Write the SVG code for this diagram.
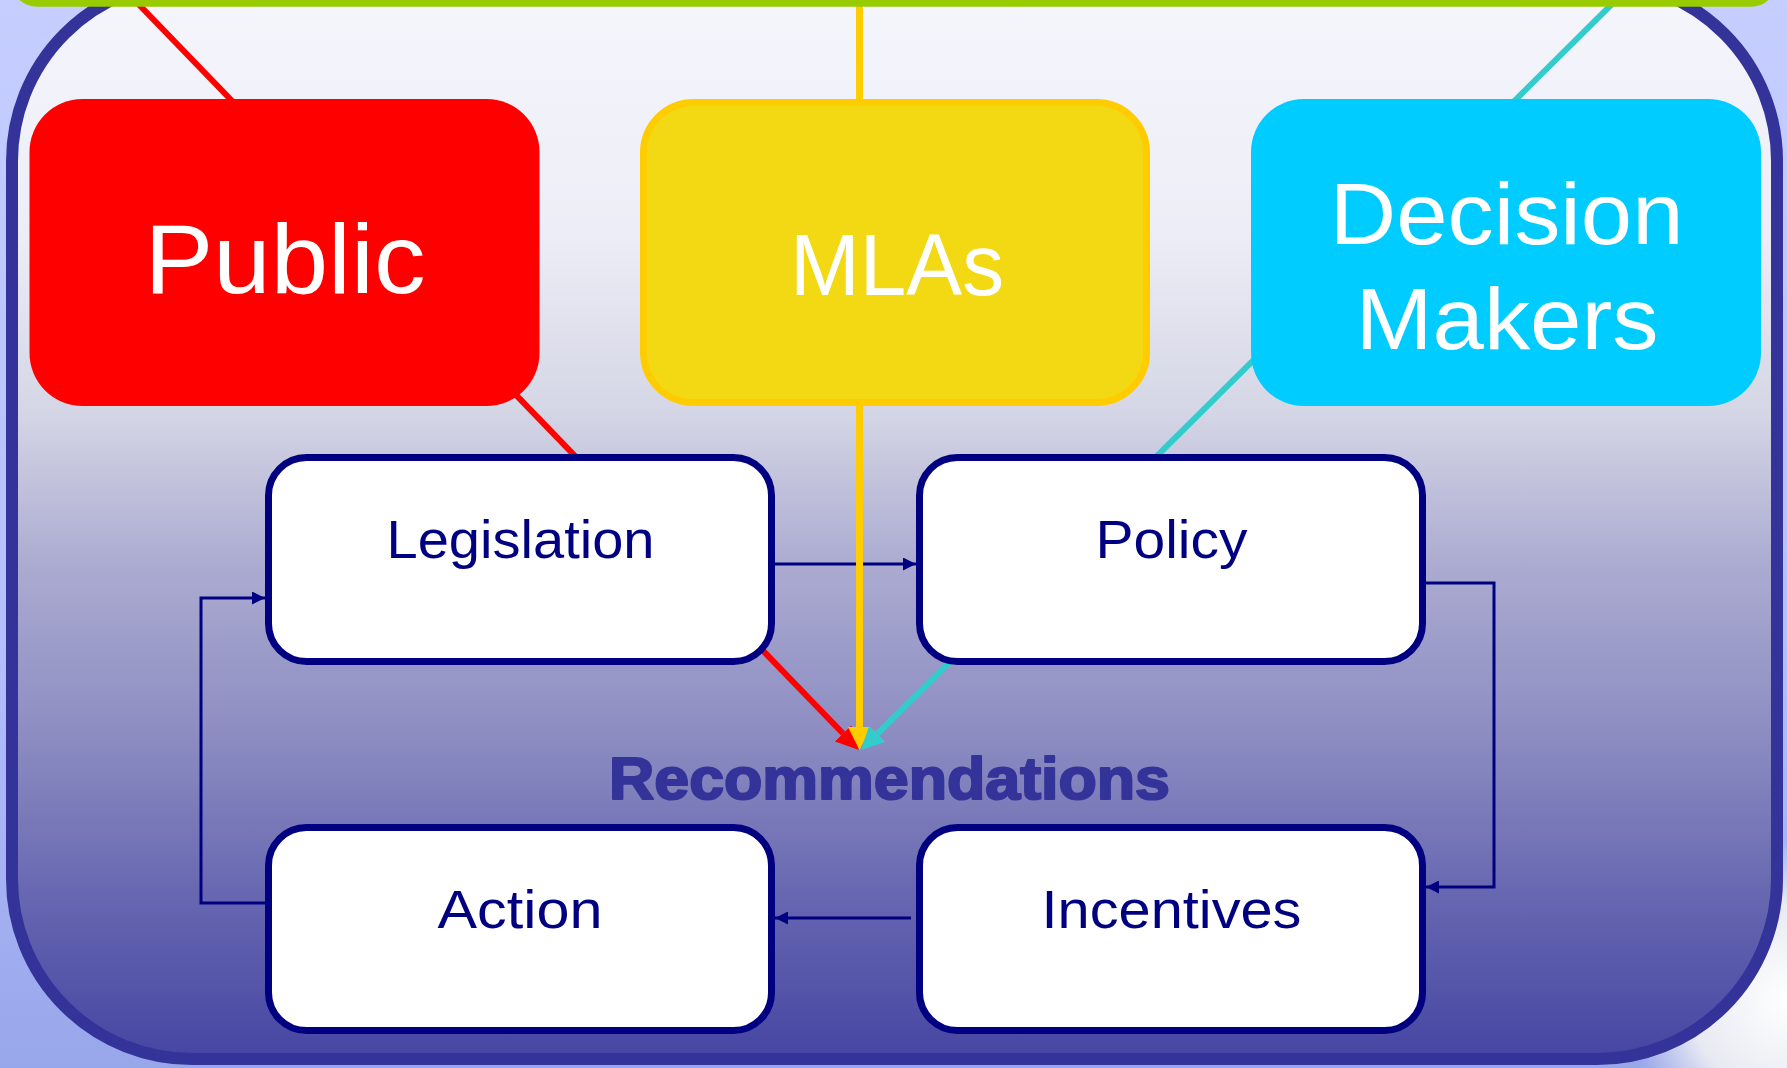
<svg xmlns="http://www.w3.org/2000/svg" width="1787" height="1068" viewBox="0 0 1787 1068">
<defs>
<linearGradient id="outerBg" x1="0" y1="0" x2="0" y2="1">
<stop offset="0" stop-color="#C6CEFF"/>
<stop offset="0.6" stop-color="#B4C0FF"/>
<stop offset="1" stop-color="#98A6EA"/>
</linearGradient>
<radialGradient id="glare" cx="1787" cy="1000" r="160" gradientUnits="userSpaceOnUse">
<stop offset="0" stop-color="#FFFFFF"/>
<stop offset="0.6" stop-color="#E8EAF2"/>
<stop offset="1" stop-color="#E8EAF2" stop-opacity="0"/>
</radialGradient>
<linearGradient id="innerBg" x1="0" y1="0" x2="0" y2="1068" gradientUnits="userSpaceOnUse">
<stop offset="0" stop-color="#F5F6FC"/>
<stop offset="0.22" stop-color="#ECEDF6"/>
<stop offset="0.38" stop-color="#D6D7E6"/>
<stop offset="0.53" stop-color="#ABABD1"/>
<stop offset="0.69" stop-color="#8C8CC2"/>
<stop offset="0.85" stop-color="#6464B0"/>
<stop offset="1" stop-color="#4444A2"/>
</linearGradient>
<marker id="navyArrow" markerUnits="userSpaceOnUse" markerWidth="13" markerHeight="13" refX="13" refY="6.5" orient="auto" viewBox="0 0 13 13">
<path d="M0,0 L13,6.5 L0,13 z" fill="#000080"/>
</marker>
<marker id="redArrow" markerUnits="userSpaceOnUse" markerWidth="23" markerHeight="23" refX="0" refY="11.5" orient="auto" viewBox="0 0 23 23">
<path d="M0,0 L23,11.5 L0,23 z" fill="#FF0000"/>
</marker>
<marker id="yellowArrow" markerUnits="userSpaceOnUse" markerWidth="23" markerHeight="23" refX="0" refY="11.5" orient="auto" viewBox="0 0 23 23">
<path d="M0,0 L23,11.5 L0,23 z" fill="#FFCC00"/>
</marker>
<marker id="cyanArrow" markerUnits="userSpaceOnUse" markerWidth="23" markerHeight="23" refX="0" refY="11.5" orient="auto" viewBox="0 0 23 23">
<path d="M0,0 L23,11.5 L0,23 z" fill="#33CCCC"/>
</marker>
</defs>
<style>
.big { font-family: "Liberation Sans", Arial, sans-serif; fill: #FFFFFF; text-anchor: middle; }
.lbl { font-family: "Liberation Sans", Arial, sans-serif; fill: #000080; text-anchor: middle; font-size: 53.5px; }
.box { fill: #FFFFFF; stroke: #000080; stroke-width: 7; }
.nav { fill: none; stroke: #000080; stroke-width: 3; marker-end: url(#navyArrow); }
.rec { font-family: "Liberation Sans", Arial, sans-serif; font-weight: bold; fill: #333399; stroke: #333399; stroke-width: 2.2; stroke-linejoin: round; text-anchor: middle; font-size: 59px; }
</style>

<rect x="0" y="0" width="1787" height="1068" fill="url(#outerBg)"/>
<rect x="1600" y="820" width="187" height="248" fill="url(#glare)"/>
<rect id="frame" x="12" y="-19" width="1765" height="1078" rx="180" ry="180" fill="url(#innerBg)" stroke="#333399" stroke-width="12"/>

<g id="connectors">
<path class="nav" d="M775,564 H916"/>
<path class="nav" d="M1426,583 H1494 V887 H1426"/>
<path class="nav" d="M911,918 H775"/>
<path class="nav" d="M265,903 H201 V598 H265"/>
<path d="M134.5,0 L843,733.5" stroke="#FF0000" stroke-width="6" fill="none" marker-end="url(#redArrow)"/>
<path d="M859.5,0 L859.5,727" stroke="#FFCC00" stroke-width="7" fill="none" marker-end="url(#yellowArrow)"/>
<path d="M1616,0 L877.3,733.8" stroke="#33CCCC" stroke-width="6" fill="none" marker-end="url(#cyanArrow)"/>
</g>

<rect id="topbar" x="12" y="-40" width="1764" height="46.7" rx="25" ry="25" fill="#99CC00"/>

<g id="public">
<rect x="29.5" y="99" width="510" height="307" rx="53" ry="53" fill="#FF0000"/>
<text class="big" x="285" y="293" font-size="99" textLength="281" lengthAdjust="spacingAndGlyphs">Public</text>
</g>
<g id="mlas">
<rect x="643.5" y="102.5" width="503" height="300" rx="50" ry="50" fill="#F2D914" stroke="#FFCC00" stroke-width="7"/>
<text class="big" x="897" y="295" font-size="87" textLength="214" lengthAdjust="spacingAndGlyphs">MLAs</text>
</g>
<g id="decision-makers">
<rect x="1251" y="99" width="510" height="307" rx="53" ry="53" fill="#00CCFF"/>
<text class="big" x="1506.5" y="244" font-size="87" textLength="354" lengthAdjust="spacingAndGlyphs">Decision</text>
<text class="big" x="1507" y="349" font-size="87" textLength="303" lengthAdjust="spacingAndGlyphs">Makers</text>
</g>

<g id="legislation">
<rect class="box" x="268.5" y="457.5" width="503" height="204" rx="38" ry="38"/>
<text class="lbl" x="520.5" y="558" textLength="268" lengthAdjust="spacingAndGlyphs">Legislation</text>
</g>
<g id="policy">
<rect class="box" x="919.5" y="457.5" width="503" height="204" rx="38" ry="38"/>
<text class="lbl" x="1171.5" y="558" textLength="152" lengthAdjust="spacingAndGlyphs">Policy</text>
</g>
<g id="action">
<rect class="box" x="268.5" y="827.5" width="503" height="203" rx="38" ry="38"/>
<text class="lbl" x="520" y="928" textLength="165" lengthAdjust="spacingAndGlyphs">Action</text>
</g>
<g id="incentives">
<rect class="box" x="919.5" y="827.5" width="503" height="203" rx="38" ry="38"/>
<text class="lbl" x="1171.5" y="928" textLength="260" lengthAdjust="spacingAndGlyphs">Incentives</text>
</g>
<g id="recommendations">
<text class="rec" x="889.5" y="799" textLength="561" lengthAdjust="spacingAndGlyphs">Recommendations</text>
</g>
</svg>
